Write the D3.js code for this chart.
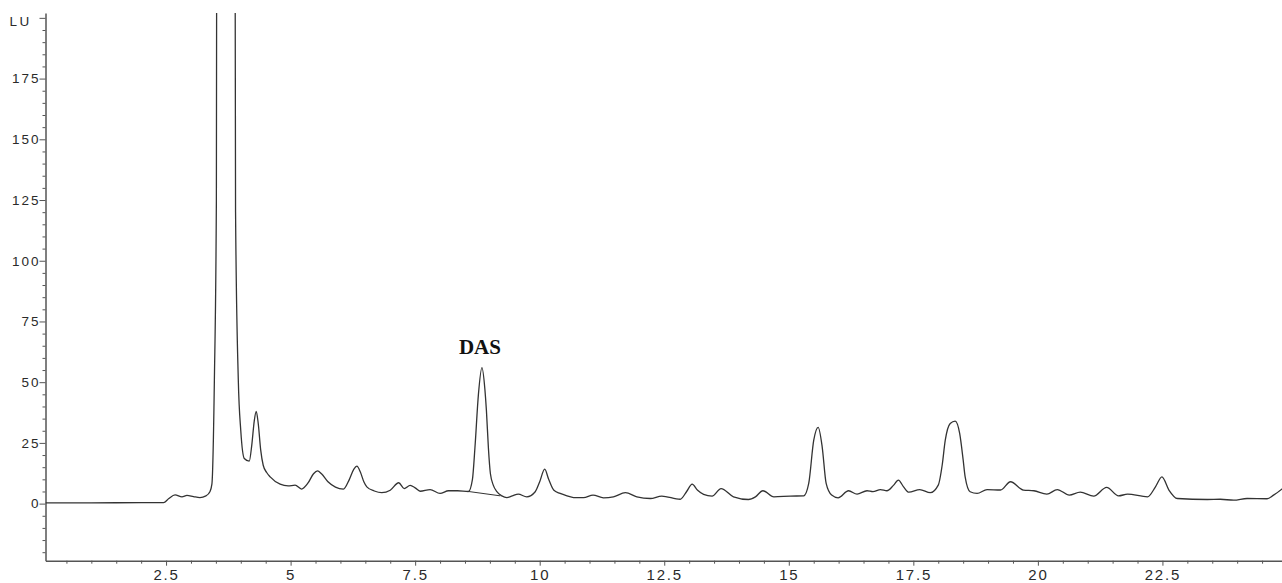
<!DOCTYPE html>
<html>
<head>
<meta charset="utf-8">
<script src="https://cdn.jsdelivr.net/npm/d3@7/dist/d3.min.js"></script>
<style>
	body { margin: 0; background: #fff; }
	.axis path, .axis line { stroke: #555; }
	.axis path { stroke-width: 1.5px; }
	.axis text { font-family: "Liberation Sans", Arial, sans-serif; fill: #2a2a2a; }
	.trace { fill: none; stroke: #333; stroke-width: 1.3px; stroke-linejoin: round; }
</style>
</head>
<body>
<svg width="1282" height="583"></svg>
<script>

	// retention time (min) and detector response (LU)
	var time = [
		0.08, 1.00, 2.00, 2.45, 2.55, 2.68, 2.82, 2.92, 3.05, 3.18, 3.30, 3.38, 3.42, 3.47, 3.51, 3.525, 3.56,
		3.86, 3.88, 3.895, 3.95, 4.00, 4.07, 4.17, 4.22, 4.27, 4.31, 4.35, 4.40, 4.45, 4.52, 4.59, 4.79,
		4.95, 5.09, 5.22, 5.35, 5.46, 5.54, 5.62, 5.75, 5.90, 6.06, 6.18, 6.27, 6.33, 6.40, 6.47, 6.53,
		6.68, 6.83, 7.00, 7.17, 7.28, 7.40, 7.50, 7.60, 7.80, 8.00, 8.17, 8.35, 8.57, 8.65, 8.70, 8.77,
		8.84, 8.90, 8.93, 8.97, 9.01, 9.07, 9.14, 9.24, 9.34, 9.45, 9.57, 9.74, 9.91, 10.00, 10.10, 10.18,
		10.28, 10.41, 10.55, 10.68, 10.88, 11.07, 11.28, 11.48, 11.72, 11.95, 12.22, 12.45, 12.82, 12.95,
		13.06, 13.17, 13.29, 13.46, 13.64, 13.89, 14.19, 14.33, 14.48, 14.70, 15.03, 15.30, 15.40, 15.50,
		15.59, 15.67, 15.75, 15.86, 15.99, 16.20, 16.37, 16.57, 16.69, 16.84, 16.97, 17.10, 17.20, 17.30,
		17.41, 17.63, 17.84, 18.00, 18.08, 18.14, 18.24, 18.34, 18.43, 18.50, 18.54, 18.64, 18.78, 18.98,
		19.25, 19.45, 19.71, 19.92, 20.18, 20.39, 20.63, 20.85, 21.12, 21.38, 21.62, 21.80, 22.20, 22.36,
		22.49, 22.63, 22.80, 23.40, 23.66, 23.93, 24.20, 24.60, 24.73, 24.91
	];
	var lu = [
		0.3, 0.3, 0.4, 0.4, 2.0, 3.6, 2.8, 3.4, 2.9, 2.5, 3.2, 4.9, 8, 51, 125, 400, 1000,
		1000, 300, 120, 51, 30, 18.6, 17.5, 24, 34, 38, 33, 22, 15.8, 12.8, 11, 8,
		7.3, 7.6, 6.0, 8.5, 12.3, 13.5, 12.3, 9, 6.8, 6.0, 10, 14.2, 15.4, 13, 9, 6.9,
		5.2, 4.5, 5.5, 8.6, 6.2, 7.5, 6.5, 5.1, 5.8, 4.2, 5.3, 5.3, 5.0, 10, 23, 45,
		56, 47, 38.5, 23, 12.4, 7.5, 4.9, 3.2, 2.5, 3.2, 3.9, 2.8, 4.9, 9, 14.2, 10,
		5.6, 4.2, 3.2, 2.5, 2.5, 3.5, 2.4, 2.8, 4.5, 2.8, 2.1, 3.1, 1.8, 5,
		8.0, 5.5, 3.8, 3.1, 6.2, 2.8, 1.7, 2.8, 5.3, 2.8, 3.1, 3.2, 8.3, 26,
		31.4, 23.4, 8.3, 3.5, 2.4, 5.3, 3.9, 5.3, 4.9, 5.8, 5.3, 7.5, 9.7, 7,
		4.7, 5.8, 4.5, 7.6, 16, 26, 33, 34, 28.9, 18, 11, 4.9, 4.2, 5.8,
		5.6, 9.0, 5.6, 5.3, 3.9, 5.8, 3.5, 4.7, 3.1, 6.7, 3.2, 3.9, 2.8, 6.9,
		11, 5.6, 2.1, 1.7, 1.8, 1.4, 2.1, 2.0, 3.5, 6.2
	];

	// drop-line baseline drawn under the DAS peak
	var dasBaseTime = [8.57, 9.21];
	var dasBaseLu = [5.0, 3.2];
	var dasLabel = { text: "DAS", time: 8.84, lu: 56 };

	var xMajor = [2.5, 5, 7.5, 10, 12.5, 15, 17.5, 20, 22.5];
	var yMajor = [0, 25, 50, 75, 100, 125, 150, 175, 200];
	var yLabels = ["0", "25", "50", "75", "100", "125", "150", "175", ""];

	var svg = d3.select("svg");

	var x = d3.scaleLinear().domain([0.08, 24.9]).range([45.5, 1282]);
	var y = d3.scaleLinear().domain([-23.5, 202]).range([560.7, 13]);

	var xMinor = d3.range(0.5, 25, 0.5).filter(function(d) { return xMajor.indexOf(d) < 0; });
	var yMinor = d3.range(-20, 200, 5).filter(function(d) { return d % 25 !== 0; });

	// minor ticks first, then the major axes with labels
	svg.append("g")
		.attr("class", "axis")
		.attr("transform", "translate(0," + y.range()[0] + ")")
		.call(d3.axisBottom(x).tickValues(xMinor).tickSize(3).tickSizeOuter(0).tickFormat(""))
		.select(".domain").remove();

	svg.append("g")
		.attr("class", "axis")
		.attr("transform", "translate(" + x.range()[0] + ",0)")
		.call(d3.axisLeft(y).tickValues(yMinor).tickSize(3).tickSizeOuter(0).tickFormat(""))
		.select(".domain").remove();

	var xAxis = svg.append("g")
		.attr("class", "axis")
		.attr("transform", "translate(0," + y.range()[0] + ")")
		.call(d3.axisBottom(x).tickValues(xMajor).tickSize(5).tickSizeOuter(0)
			.tickFormat(function(d) { return String(d); }));
	xAxis.selectAll("text")
		.attr("y", 9)
		.style("font-size", "15px")
		.style("letter-spacing", "1.8px");

	var yAxis = svg.append("g")
		.attr("class", "axis")
		.attr("transform", "translate(" + x.range()[0] + ",0)")
		.call(d3.axisLeft(y).tickValues(yMajor).tickSize(6).tickSizeOuter(0)
			.tickFormat(function(d, i) { return yLabels[i]; }));
	yAxis.selectAll("text")
		.attr("x", -5)
		.style("font-size", "13.5px")
		.style("letter-spacing", "2px");

	yAxis.append("text")
		.attr("x", -36)
		.attr("y", y(200) + 8)
		.attr("text-anchor", "start")
		.style("font-size", "13.5px")
		.style("letter-spacing", "2.5px")
		.text("LU");

	// clip the solvent front peak at the top of the frame
	svg.append("clipPath").attr("id", "plot")
		.append("rect")
		.attr("x", x.range()[0])
		.attr("y", y.range()[1])
		.attr("width", x.range()[1] - x.range()[0])
		.attr("height", y.range()[0] - y.range()[1]);

	var points = time.map(function(t, i) { return [t, lu[i]]; });

	var line = d3.line()
		.x(function(d) { return x(d[0]); })
		.y(function(d) { return y(d[1]); })
		.curve(d3.curveMonotoneX);

	svg.append("path")
		.datum(points)
		.attr("class", "trace")
		.attr("clip-path", "url(#plot)")
		.attr("d", line);

	svg.append("path")
		.datum(dasBaseTime.map(function(t, i) { return [t, dasBaseLu[i]]; }))
		.attr("fill", "none")
		.attr("stroke", "#333")
		.attr("stroke-width", 1)
		.attr("d", d3.line().x(function(d) { return x(d[0]); }).y(function(d) { return y(d[1]); }));

	svg.append("text")
		.attr("x", x(dasLabel.time) - 2)
		.attr("y", y(dasLabel.lu) - 14)
		.attr("text-anchor", "middle")
		.style("font-family", "'Liberation Serif', 'Times New Roman', serif")
		.style("font-weight", "bold")
		.style("font-size", "21px")
		.style("fill", "#111")
		.text(dasLabel.text);

</script>
</body>
</html>
